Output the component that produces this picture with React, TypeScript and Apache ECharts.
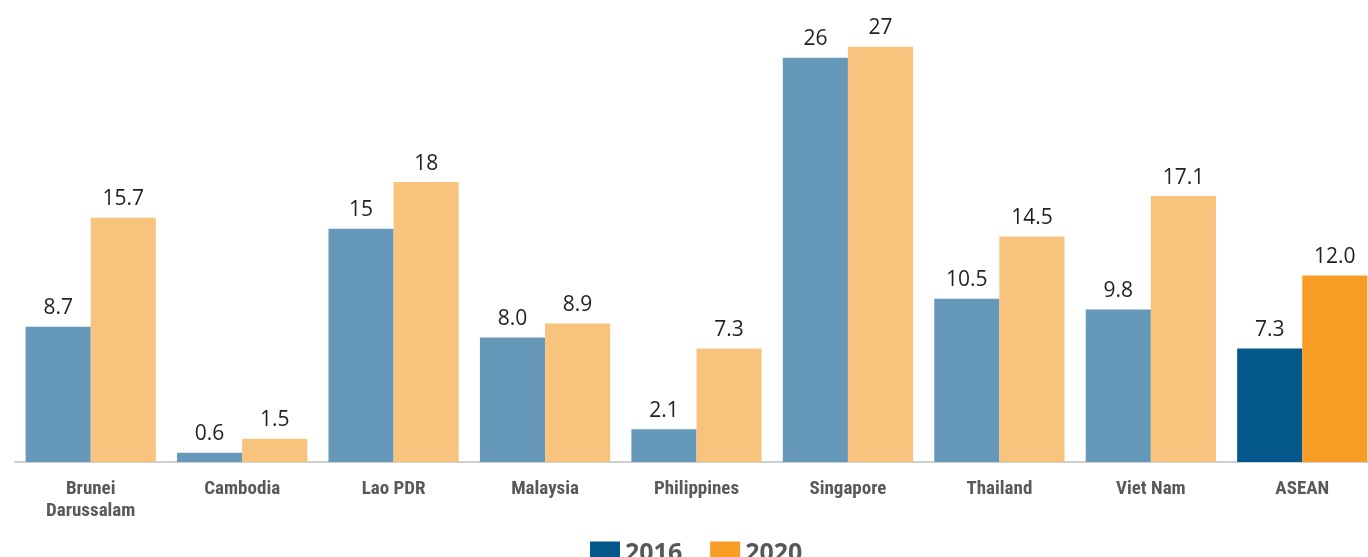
import React, { useEffect, useRef } from "react";
import * as echarts from "echarts";

const categories = ["Brunei\nDarussalam", "Cambodia", "Lao PDR", "Malaysia", "Philippines", "Singapore", "Thailand", "Viet Nam", "ASEAN"];
const values2016 = [8.7, 0.6, 15, 8.0, 2.1, 26, 10.5, 9.8, 7.3];
const values2020 = [15.7, 1.5, 18, 8.9, 7.3, 26.7, 14.5, 17.1, 12.0];
const labels2016 = ["8.7", "0.6", "15", "8.0", "2.1", "26", "10.5", "9.8", "7.3"];
const labels2020 = ["15.7", "1.5", "18", "8.9", "7.3", "27", "14.5", "17.1", "12.0"];

const light2016 = "#6699B9";
const light2020 = "#F8C37C";
const dark2016 = "#03578B";
const dark2020 = "#F79C24";

export default function App() {
  const ref = useRef<HTMLDivElement>(null);
  useEffect(() => {
    const chart = echarts.init(ref.current!, null, { renderer: "svg" });
    const mk = (vals: number[], lightC: string) =>
      vals.map((v, i) => ({
        value: v,
        itemStyle: categories[i] === "ASEAN" ? undefined : { color: lightC },
      }));
    const labelStyle = (labels: string[]) => ({
      show: true,
      position: "top",
      distance: 10,
      fontFamily: "Open Sans, Noto Sans, sans-serif",
      fontSize: 21,
      color: "#231F20",
      formatter: (p: any) => labels[p.dataIndex],
    });
    chart.setOption({
      animation: false,
      grid: { left: 15, right: 2, top: 11, bottom: 95 },
      xAxis: {
        type: "category",
        data: categories,
        axisLine: { show: true, lineStyle: { color: "#CFCFCF", width: 2 } },
        axisTick: { show: false },
        axisLabel: {
          margin: 14,
          fontFamily: "'Noto Sans Condensed', 'Roboto Condensed', 'Open Sans Condensed', 'Liberation Sans Narrow', 'DejaVu Sans Condensed', sans-serif",
          fontWeight: "bold",
          fontSize: 19,
          color: "#58595B",
          lineHeight: 22,
          interval: 0,
        },
      },
      yAxis: { type: "value", min: 0, max: 29, show: false, splitLine: { show: false } },
      legend: {
        top: 538,
        left: 590,
        padding: 0,
        itemWidth: 30,
        itemHeight: 18,
        itemGap: 28,
        icon: "rect",
        textStyle: {
          fontFamily: "Open Sans, Noto Sans, sans-serif",
          fontWeight: "bold",
          fontSize: 25,
          color: "#58595B",
        },
        data: ["2016", "2020"],
      },
      series: [
        {
          name: "2016",
          type: "bar",
          barGap: "0%",
          barCategoryGap: "14%",
          itemStyle: { color: dark2016 },
          label: labelStyle(labels2016),
          data: mk(values2016, light2016),
        },
        {
          name: "2020",
          type: "bar",
          itemStyle: { color: dark2020 },
          label: labelStyle(labels2020),
          data: mk(values2020, light2020),
        },
      ],
    });
    return () => chart.dispose();
  }, []);
  return (
    <div style={{ position: "fixed", left: 0, top: 0, width: 1368, height: 557, overflow: "hidden" }}>
      <div ref={ref} style={{ width: 1380, height: 557 }} />
    </div>
  );
}
